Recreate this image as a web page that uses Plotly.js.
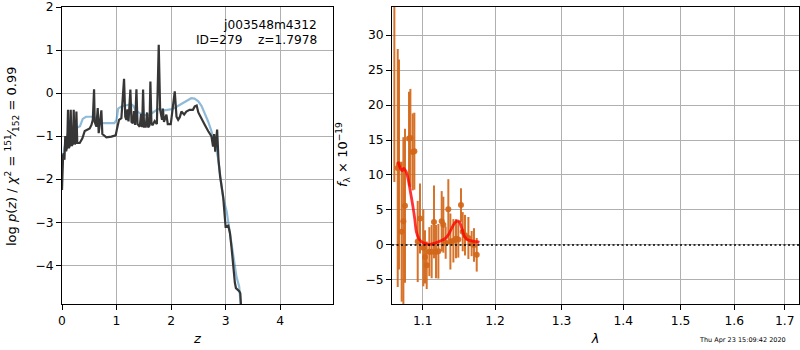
<!DOCTYPE html>
<html>
<head>
<meta charset="utf-8">
<script src="https://cdn.plot.ly/plotly-3.0.1.min.js"></script>
<style>html,body{margin:0;padding:0;background:#fff;}#chart{width:800px;height:350px;}</style>
</head>
<body>
<div id="chart"></div>
<script>
// ---- Left panel: log p(z) (black) and scaled chi2 (blue) ----
const zPz = [0.000,0.010,0.020,0.031,0.045,0.060,0.075,0.095,0.110,0.125,0.145,0.160,0.175,0.200,0.215,0.230,0.250,0.264,0.280,0.325,0.374,0.417,0.508,0.540,0.565,0.588,0.600,0.631,0.655,0.673,0.700,0.722,0.740,0.765,0.814,0.906,0.985,1.010,1.046,1.089,1.138,1.160,1.181,1.200,1.220,1.254,1.275,1.300,1.320,1.340,1.365,1.385,1.426,1.450,1.470,1.487,1.505,1.536,1.560,1.580,1.605,1.621,1.640,1.660,1.700,1.740,1.774,1.800,1.835,1.850,1.870,1.915,1.940,1.995,2.040,2.068,2.100,2.130,2.160,2.190,2.240,2.280,2.340,2.400,2.435,2.470,2.500,2.560,2.620,2.680,2.740,2.770,2.790,2.810,2.845,2.870,2.900,2.955,3.000,3.050,3.080,3.110,3.140,3.170,3.190,3.250,3.270,3.285];
const logPz = [-2.25,-1.75,-1.45,-1.40,-1.55,-1.00,-1.35,-1.25,-0.39,-1.28,-1.22,-0.39,-1.23,-1.18,-0.39,-1.19,-1.15,-0.43,-1.16,-1.16,-1.05,-0.88,-0.82,-0.74,-0.62,0.09,-0.67,-0.78,-0.35,-0.93,-0.60,-0.40,-0.95,-0.98,-1.03,-1.01,-0.98,-0.82,-0.62,-0.58,0.33,-0.55,-0.62,-0.38,-0.66,0.08,-0.67,-0.70,-0.42,-0.74,0.09,-0.72,-0.78,-0.48,-0.79,0.08,-0.78,-0.78,-0.45,-0.80,-0.75,0.27,-0.70,-0.75,-0.65,-0.72,1.12,-0.39,-0.62,-0.36,-0.67,-0.50,-0.72,-0.72,-0.31,0.04,-0.55,-0.62,-0.56,-0.43,-0.50,-0.43,-0.39,-0.39,-0.31,-0.29,-0.45,-0.58,-0.74,-0.88,-1.00,-1.24,-0.95,-1.36,-0.85,-1.55,-1.94,-2.40,-3.10,-3.08,-3.25,-3.60,-4.11,-4.40,-4.53,-4.60,-4.65,-5.00];

const zChi = [0.000,0.040,0.080,0.120,0.200,0.280,0.330,0.380,0.440,0.570,0.630,0.690,0.780,0.870,0.960,1.000,1.030,1.090,1.180,1.270,1.310,1.350,1.430,1.520,1.610,1.700,1.760,1.870,1.990,2.070,2.190,2.280,2.370,2.430,2.500,2.560,2.620,2.680,2.740,2.800,2.860,2.900,2.950,3.020,3.110,3.200,3.250,3.270,3.280];
const chi2 = [-1.75,-1.30,-1.05,-0.90,-0.85,-0.80,-0.77,-0.60,-0.55,-0.55,-0.58,-0.70,-0.70,-0.71,-0.70,-0.62,-0.36,-0.31,-0.29,-0.26,-0.30,-0.40,-0.47,-0.51,-0.50,-0.43,-0.37,-0.40,-0.38,-0.34,-0.25,-0.17,-0.12,-0.13,-0.19,-0.30,-0.47,-0.66,-0.88,-1.15,-1.50,-1.92,-2.40,-2.75,-3.57,-4.27,-4.50,-4.80,-4.95];

// ---- Right panel: 1D spectrum with errors and model ----
const lam  = [1.0631,1.0674,1.0691,1.0725,1.0747,1.0768,1.0820,1.0838,1.0868,1.0890,1.0934,1.0964,1.1008,1.1030,1.1053,1.1088,1.1119,1.1150,1.1177,1.1209,1.1254,1.1276,1.1308,1.1344,1.1372,1.1413,1.1449,1.1481,1.1518,1.1542,1.1574,1.1621,1.1667,1.1700,1.1738];
const flux = [40.0,11.0,11.5,1.9,3.4,5.6,15.2,15.3,13.3,13.4,0.5,3.8,-0.4,-1.7,-2.9,-0.95,-0.95,3.3,-0.95,-0.9,3.4,2.9,0.33,5.1,0.5,0.6,0.9,0.8,5.7,1.9,1.4,1.0,0.2,0.0,-1.4];
const ferr = [31.0,17.0,15.0,10.0,12.0,11.0,6.7,7.0,5.5,5.5,5.8,5.0,5.5,3.8,3.4,3.5,3.8,5.2,3.8,3.9,4.3,4.0,2.3,4.3,4.0,3.1,2.8,2.6,2.4,2.8,2.9,3.0,1.8,2.4,2.4];

const lamModel  = [1.0678,1.0708,1.0730,1.0751,1.0781,1.0807,1.0838,1.0868,1.0894,1.0916,1.0947,1.0982,1.1035,1.1101,1.1168,1.1236,1.1303,1.1349,1.1394,1.1440,1.1472,1.1500,1.1532,1.1569,1.1616,1.1672,1.1742,1.1775];
const fluxModel = [11.9,10.95,10.6,10.95,10.5,9.52,7.62,5.71,3.81,1.90,0.95,0.48,0.19,0.10,0.29,0.57,0.95,1.52,2.48,3.24,3.43,3.24,2.29,1.19,0.71,0.57,0.48,0.38];

const lamTicks = [1.1,1.2,1.3,1.4,1.5,1.6,1.7];
const lamRange = [1.0601, 1.7295];

const FONT = 'DejaVu Sans, sans-serif';
const ORANGE = 'rgba(210,102,24,0.92)';

const traces = [
  {x: zChi, y: chi2, xaxis:'x', yaxis:'y', mode:'lines',
   line:{color:'rgba(31,119,180,0.5)', width:2.2}, hoverinfo:'skip'},
  {x: zPz, y: logPz, xaxis:'x', yaxis:'y', mode:'lines',
   line:{color:'#363636', width:2.2}, hoverinfo:'skip'},
  {x: lam, y: flux, xaxis:'x2', yaxis:'y2', mode:'markers',
   marker:{color:ORANGE, size:6},
   error_y:{type:'data', array:ferr, visible:true, color:ORANGE, thickness:2, width:0}},
  {x: lamModel, y: fluxModel, xaxis:'x2', yaxis:'y2', mode:'lines', line:{color:'rgba(255,0,0,0.8)', width:2.8, shape:'spline', smoothing:0.8}}
];

const axCommon = {
  showline:true, mirror:true, linecolor:'#000', linewidth:1,
  ticks:'outside', ticklen:5, tickwidth:1, tickcolor:'#000',
  showgrid:true, gridcolor:'#b0b0b0', gridwidth:1, zeroline:false,
  tickfont:{family:FONT, size:12.3, color:'#000'}
};

const layout = {
  width:800, height:350,
  margin:{l:0, r:0, t:0, b:0},
  paper_bgcolor:'#fff', plot_bgcolor:'#fff',
  showlegend:false,
  font:{family:FONT, color:'#000'},
  xaxis: Object.assign({}, axCommon, {domain:[62/800, 333/800], range:[0,4.97], tickvals:[0,1,2,3,4], anchor:'y',
    title:{text:'<i>z</i>', font:{family:FONT, size:13}, standoff:7}}),
  yaxis: Object.assign({}, axCommon, {domain:[1-304/350, 1-7/350], range:[-4.9,2], tickvals:[-4,-3,-2,-1,0,1,2], anchor:'x'}),
  xaxis2: Object.assign({}, axCommon, {domain:[392/800, 799/800], type:'log',
    range:[Math.log10(lamRange[0]), Math.log10(lamRange[1])], tickvals:lamTicks, ticktext:lamTicks.map(v=>v.toFixed(1)), anchor:'y2',
    title:{text:'<i>λ</i>', font:{family:FONT, size:13}, standoff:7}}),
  yaxis2: Object.assign({}, axCommon, {domain:[1-304/350, 1-7/350], range:[-8.43,34], tickvals:[-5,0,5,10,15,20,25,30], anchor:'x2'}),
  shapes:[
    {type:'line', xref:'x2 domain', yref:'y2', x0:0, x1:1, y0:0, y1:0, layer:'above',
     line:{color:'#000', width:1.5, dash:'2px,2.5px'}}
  ],
  annotations:[
    {xref:'paper', yref:'paper', x:319/800, y:1-24.5/350, xanchor:'right', yanchor:'middle', showarrow:false,
     text:'j003548m4312', font:{family:FONT, size:12.2, color:'#000'}},
    {xref:'paper', yref:'paper', x:319/800, y:1-39.5/350, xanchor:'right', yanchor:'middle', showarrow:false,
     text:'ID=279\u00a0\u00a0\u00a0\u00a0z=1.7978', font:{family:FONT, size:12.2, color:'#000'}},
    {xref:'paper', yref:'paper', x:12/800, y:1-156/350, xanchor:'center', yanchor:'middle', showarrow:false, textangle:-90,
     text:'log\u00a0<i>p</i>(<i>z</i>)\u00a0/\u00a0<i>χ</i><sup>2</sup>\u00a0=\u00a0<sup>151</sup>⁄<sub>152</sub>\u00a0=\u00a00.99', font:{family:FONT, size:13, color:'#000'}},
    {xref:'paper', yref:'paper', x:343/800, y:1-155/350, xanchor:'center', yanchor:'middle', showarrow:false, textangle:-90,
     text:'<i>f</i><sub>λ</sub>\u00a0×\u00a010<sup>−19</sup>', font:{family:FONT, size:13, color:'#000'}},
    {xref:'paper', yref:'paper', x:742/800, y:1-340/350, xanchor:'center', yanchor:'middle', showarrow:false,
     text:'Thu Apr 23 15:09:42 2020', font:{family:FONT, size:6.5, color:'#000'}}
  ]
};

Plotly.newPlot('chart', traces, layout, {staticPlot:true, displayModeBar:false});
</script>
</body>
</html>
